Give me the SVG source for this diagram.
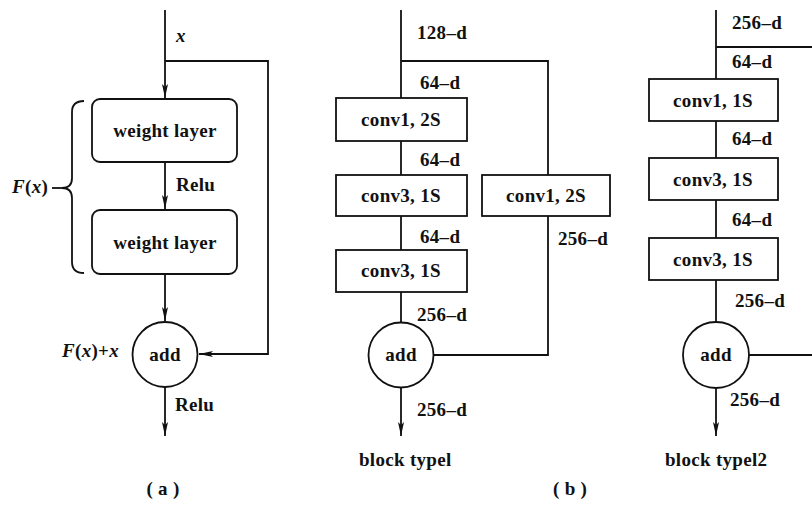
<svg xmlns="http://www.w3.org/2000/svg" width="812" height="507" viewBox="0 0 812 507">
<defs>
<marker id="ah" viewBox="0 0 14 6" refX="14" refY="3" markerWidth="14" markerHeight="6" markerUnits="userSpaceOnUse" orient="auto">
<path d="M0,0 L14,3 L0,6 L3,3 Z" fill="#111"/>
</marker>
<style>
.ln{stroke:#111;stroke-width:1.8;fill:none}
.bx{stroke:#111;stroke-width:1.8;fill:#fff}
.t{font-family:"Liberation Serif","Times New Roman",serif;font-weight:bold;font-size:19px;letter-spacing:0.3px;fill:#111}
.c{text-anchor:middle}
.i{font-style:italic}
</style>
</defs>
<rect width="812" height="507" fill="#fff"/>

<g id="connectors">
<!-- (a) -->
<line class="ln" x1="165" y1="10" x2="165" y2="98" marker-end="url(#ah)"/>
<polyline class="ln" points="165,61 268,61 268,354 199,354" marker-end="url(#ah)"/>
<line class="ln" x1="165" y1="162" x2="165" y2="209" marker-end="url(#ah)"/>
<line class="ln" x1="165" y1="274" x2="165" y2="321" marker-end="url(#ah)"/>
<line class="ln" x1="165" y1="387" x2="165" y2="436" marker-end="url(#ah)"/>
<path class="ln" d="M84,101 Q72,101 72,112 L72,178 Q72,188 62,188 Q72,188 72,198 L72,262 Q72,273 84,273"/>
<line class="ln" x1="52" y1="188" x2="62" y2="188"/>
<!-- (b) -->
<line class="ln" x1="401" y1="10" x2="401" y2="98"/>
<polyline class="ln" points="401,61 548,61 548,175"/>
<line class="ln" x1="401" y1="141" x2="401" y2="175"/>
<line class="ln" x1="401" y1="216" x2="401" y2="250"/>
<line class="ln" x1="401" y1="292" x2="401" y2="322"/>
<polyline class="ln" points="548,216 548,355 434,355"/>
<line class="ln" x1="401" y1="387" x2="401" y2="436" marker-end="url(#ah)"/>
<!-- (c) -->
<line class="ln" x1="716" y1="10" x2="716" y2="79"/>
<line class="ln" x1="716" y1="47" x2="812" y2="47"/>
<line class="ln" x1="716" y1="121" x2="716" y2="158"/>
<line class="ln" x1="716" y1="200" x2="716" y2="238"/>
<line class="ln" x1="716" y1="280" x2="716" y2="322"/>
<line class="ln" x1="749" y1="355" x2="812" y2="355"/>
<line class="ln" x1="716" y1="388" x2="716" y2="436" marker-end="url(#ah)"/>
</g>

<g id="a-labels">
<text class="t i" x="176" y="42">x</text>
<text class="t" x="176" y="191">Relu</text>
<text class="t" x="12" y="193"><tspan class="i">F</tspan>(<tspan class="i">x</tspan>)</text>
<text class="t" x="62" y="357"><tspan class="i">F</tspan>(<tspan class="i">x</tspan>)+<tspan class="i">x</tspan></text>
<text class="t" x="175" y="411">Relu</text>
<text class="t c" x="163" y="495">( a )</text>
</g>
<g id="a-weight1"><rect class="bx" x="92" y="99" width="145" height="63" rx="8"/><text class="t c" x="165" y="137">weight layer</text></g>
<g id="a-weight2"><rect class="bx" x="92" y="210" width="145" height="64" rx="8"/><text class="t c" x="165" y="249">weight layer</text></g>
<g id="a-add"><circle class="bx" cx="165" cy="354.5" r="32.5"/><text class="t c" x="165" y="361">add</text></g>

<g id="b-labels">
<text class="t" x="417" y="39">128–d</text>
<text class="t" x="420" y="89">64–d</text>
<text class="t" x="420" y="166">64–d</text>
<text class="t" x="420" y="243">64–d</text>
<text class="t" x="558" y="245">256–d</text>
<text class="t" x="417" y="321">256–d</text>
<text class="t" x="417" y="416">256–d</text>
<text class="t" x="359" y="466">block typel</text>
<text class="t" x="553" y="495">( b )</text>
</g>
<g id="b-conv1"><rect class="bx" x="336" y="98" width="131" height="43"/><text class="t c" x="401" y="126">conv1, 2S</text></g>
<g id="b-conv2"><rect class="bx" x="336" y="175" width="131" height="41"/><text class="t c" x="401" y="202">conv3, 1S</text></g>
<g id="b-conv3"><rect class="bx" x="336" y="250" width="131" height="42"/><text class="t c" x="401" y="277">conv3, 1S</text></g>
<g id="b-short"><rect class="bx" x="482" y="175" width="128" height="41"/><text class="t c" x="546" y="202">conv1, 2S</text></g>
<g id="b-add"><circle class="bx" cx="401" cy="355" r="32.5"/><text class="t c" x="401" y="361">add</text></g>

<g id="c-labels">
<text class="t" x="732" y="29">256–d</text>
<text class="t" x="732" y="68">64–d</text>
<text class="t" x="732" y="145">64–d</text>
<text class="t" x="732" y="226">64–d</text>
<text class="t" x="735" y="307">256–d</text>
<text class="t" x="730" y="406">256–d</text>
<text class="t" x="665" y="466">block typel2</text>
</g>
<g id="c-conv1"><rect class="bx" x="649" y="79" width="129" height="42"/><text class="t c" x="713" y="107">conv1, 1S</text></g>
<g id="c-conv2"><rect class="bx" x="649" y="158" width="129" height="42"/><text class="t c" x="713" y="186">conv3, 1S</text></g>
<g id="c-conv3"><rect class="bx" x="649" y="238" width="129" height="42"/><text class="t c" x="713" y="266">conv3, 1S</text></g>
<g id="c-add"><circle class="bx" cx="716" cy="355" r="33"/><text class="t c" x="716" y="361">add</text></g>
</svg>
